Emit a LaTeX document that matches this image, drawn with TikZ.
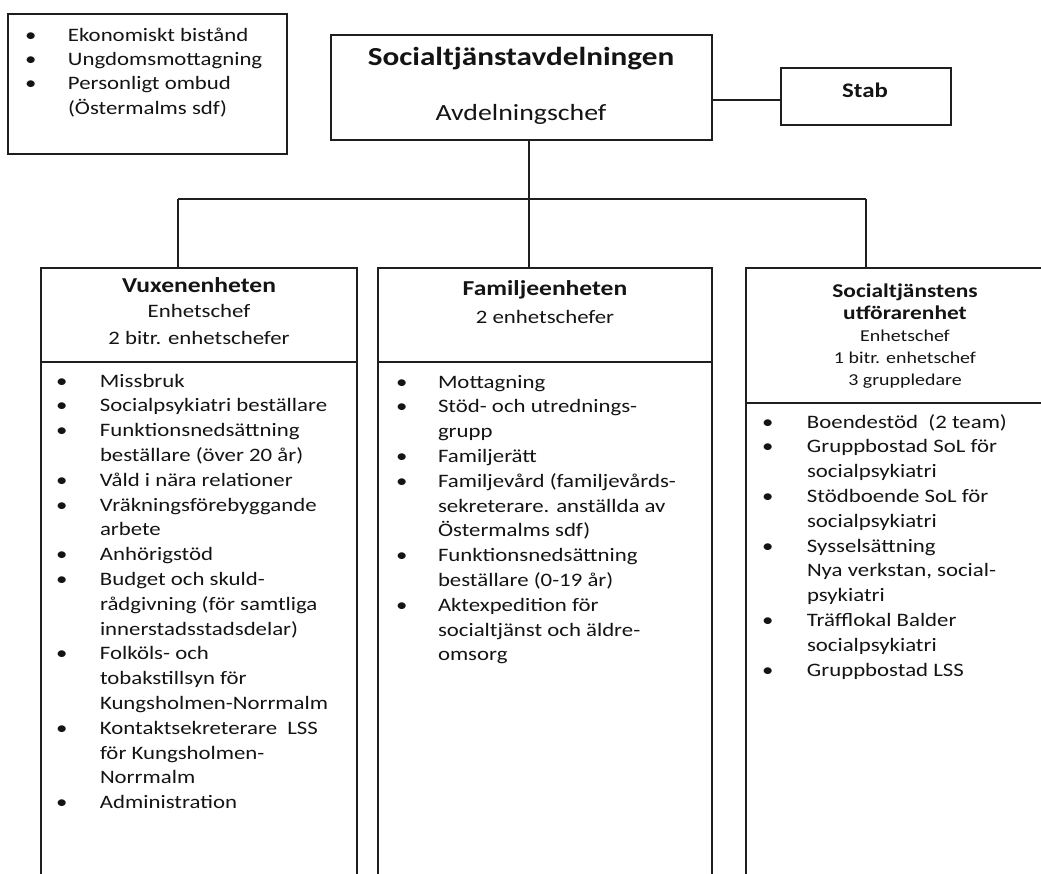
\documentclass[tikz,border=0pt]{standalone}
\usepackage{fontspec}
\setmainfont{Carlito}[FakeStretch=1.2]
\usepackage{array}
\tikzset{
  frame/.style={draw=black!88, line width=1.6pt, inner sep=0pt, outer sep=0pt},
  conn/.style={draw=black!88, line width=1.6pt},
  txt/.style={inner sep=0pt, outer sep=0pt, text=black!92},
  lst/.style={txt, anchor=base west, font=\fontsize{19}{24.8}\selectfont},
  hdb/.style={txt, anchor=base, font=\bfseries\fontsize{21.3}{25}\selectfont},
  hdr/.style={txt, anchor=base, font=\fontsize{19}{24}\selectfont},
}
\begin{document}
\begin{tikzpicture}[x=1pt,y=-1pt]
\useasboundingbox (0,0) rectangle (1041,873);
\clip (0,0) rectangle (1041,873);
\fill[white] (0,0) rectangle (1041,873);

% boxes
\node[frame, minimum width=279pt, minimum height=140pt] (tl) at (147.5,84) {};
\node[frame, minimum width=381pt, minimum height=105pt] (top) at (521.5,87.5) {};
\node[frame, minimum width=170pt, minimum height=57pt] (stab) at (866,96.5) {};
\node[frame, minimum width=316pt, minimum height=94pt] (vuxhead) at (199,315) {};
\node[frame, minimum width=316pt, minimum height=538pt] (vuxbody) at (199,631) {};
\node[frame, minimum width=334pt, minimum height=94pt] (famhead) at (545,315) {};
\node[frame, minimum width=334pt, minimum height=538pt] (fambody) at (545,631) {};
\node[frame, minimum width=334pt, minimum height=135pt] (utfhead) at (913,335.5) {};
\node[frame, minimum width=334pt, minimum height=497pt] (utfbody) at (913,651.5) {};

% connectors
\coordinate (sj) at (781,100);
\coordinate (jm) at (529,199);
\coordinate (jl) at (178,199);
\coordinate (jr) at (866,199);
\draw[conn] (top.east |- sj) -- (stab.west |- sj);
\draw[conn] (top.south -| jm) -- (jm);
\draw[conn] (jl) -- (jr);
\draw[conn] (jl) -- (vuxhead.north -| jl);
\draw[conn] (jm) -- (famhead.north -| jm);
\draw[conn] (jr) -- (utfhead.north -| jr);

% top texts
\node[txt, anchor=base, font=\bfseries\fontsize{26}{30}\selectfont] (toptitle) at (521,65) {Socialtjänstavdelningen};
\node[txt, anchor=base, font=\fontsize{23.2}{28}\selectfont] (topsub) at (521,120) {Avdelningschef};
\node[txt, anchor=base, font=\bfseries\fontsize{20.7}{25}\selectfont] (stabt) at (865,97) {Stab};

\node[lst, font=\fontsize{19}{24.4}\selectfont] (tllist) at (25,41) {\begin{tabular}[t]{@{}p{43pt}@{}l@{}}
\textbullet & Ekonomiskt bistånd\\
\textbullet & Ungdomsmottagning\\
\textbullet & Personligt ombud\\
 & (Östermalms sdf)
\end{tabular}};

% column headers
\node[hdb] (vuxt) at (199,292) {Vuxenenheten};
\node[hdr] (vuxs1) at (199,317) {Enhetschef};
\node[hdr] (vuxs2) at (199,344) {2 bitr. enhetschefer};

\node[hdb] (famt) at (545,295) {Familjeenheten};
\node[hdr] (fams1) at (545,323) {2 enhetschefer};

\node[hdb, font=\bfseries\fontsize{19.5}{22}\selectfont] (utft1) at (905,297) {Socialtjänstens};
\node[hdb, font=\bfseries\fontsize{19.5}{22}\selectfont] (utft2) at (905,319) {utförarenhet};
\node[hdr, font=\fontsize{16.6}{22}\selectfont] (utfs1) at (905,341) {Enhetschef};
\node[hdr, font=\fontsize{16.6}{22}\selectfont] (utfs2) at (905,363) {1 bitr. enhetschef};
\node[hdr, font=\fontsize{16.6}{22}\selectfont] (utfs3) at (905,385) {3 gruppledare};

% lists
\node[lst] (vuxlist) at (56,387) {\begin{tabular}[t]{@{}p{44pt}@{}l@{}}
\textbullet & Missbruk\\
\textbullet & Socialpsykiatri beställare\\
\textbullet & Funktionsnedsättning\\
 & beställare (över 20 år)\\
\textbullet & Våld i nära relationer\\
\textbullet & Vräkningsförebyggande\\
 & arbete\\
\textbullet & Anhörigstöd\\
\textbullet & Budget och skuld-\\
 & rådgivning (för samtliga\\
 & innerstadsstadsdelar)\\
\textbullet & Folköls- och\\
 & tobakstillsyn för\\
 & Kungsholmen-Norrmalm\\
\textbullet & Kontaktsekreterare~ LSS\\
 & för Kungsholmen-\\
 & Norrmalm\\
\textbullet & Administration
\end{tabular}};

\node[lst] (famlist) at (396,388) {\begin{tabular}[t]{@{}p{42pt}@{}l@{}}
\textbullet & Mottagning\\
\textbullet & Stöd- och utrednings-\\
 & grupp\\
\textbullet & Familjerätt\\
\textbullet & Familjevård (familjevårds-\\
 & sekreterare. anställda av\\
 & Östermalms sdf)\\
\textbullet & Funktionsnedsättning\\
 & beställare (0-19 år)\\
\textbullet & Aktexpedition för\\
 & socialtjänst och äldre-\\
 & omsorg
\end{tabular}};

\node[lst] (utflist) at (762,428) {\begin{tabular}[t]{@{}p{45pt}@{}l@{}}
\textbullet & Boendestöd~ (2 team)\\
\textbullet & Gruppbostad SoL för\\
 & socialpsykiatri\\
\textbullet & Stödboende SoL för\\
 & socialpsykiatri\\
\textbullet & Sysselsättning\\
 & Nya verkstan, social-\\
 & psykiatri\\
\textbullet & Träfflokal Balder\\
 & socialpsykiatri\\
\textbullet & Gruppbostad LSS
\end{tabular}};
\end{tikzpicture}
\end{document}
